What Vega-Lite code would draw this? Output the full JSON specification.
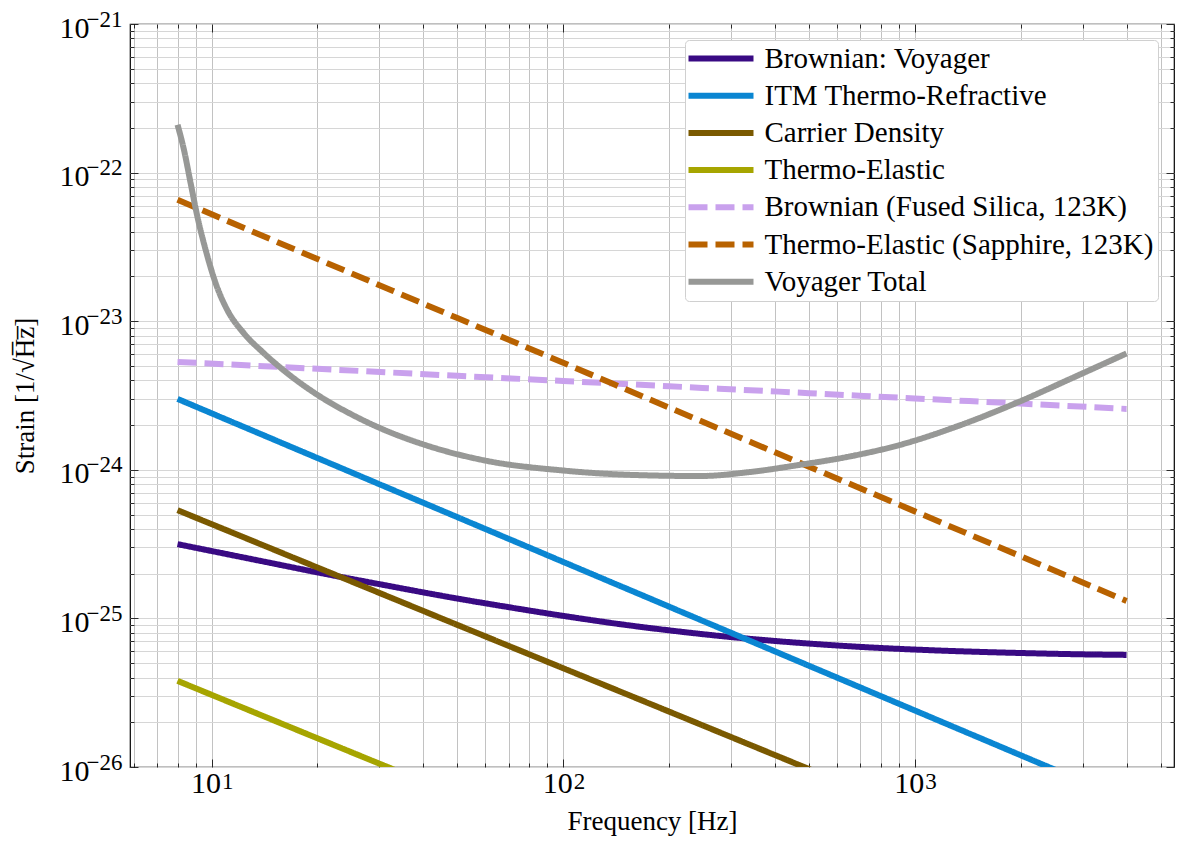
{
  "$schema": "https://vega.github.io/schema/vega-lite/v6.json",
  "width": 1044,
  "height": 743,
  "autosize": {"type": "none"},
  "padding": {"left": 130, "top": 24, "right": 3, "bottom": 76},
  "background": "white",
  "config": {
    "view": {"stroke": "black", "strokeWidth": 1.2},
    "font": "Liberation Serif"
  },
  "resolve": {"axis": {"x": "independent", "y": "independent"}},
  "data": {
    "values": [
      {"k": "Brownian: Voyager", "f": 8, "s": 3.16e-25},
      {"k": "Brownian: Voyager", "f": 10, "s": 2.84e-25},
      {"k": "Brownian: Voyager", "f": 15, "s": 2.34e-25},
      {"k": "Brownian: Voyager", "f": 20, "s": 2.04e-25},
      {"k": "Brownian: Voyager", "f": 30, "s": 1.70e-25},
      {"k": "Brownian: Voyager", "f": 50, "s": 1.36e-25},
      {"k": "Brownian: Voyager", "f": 70, "s": 1.19e-25},
      {"k": "Brownian: Voyager", "f": 100, "s": 1.04e-25},
      {"k": "Brownian: Voyager", "f": 150, "s": 9.05e-26},
      {"k": "Brownian: Voyager", "f": 200, "s": 8.31e-26},
      {"k": "Brownian: Voyager", "f": 300, "s": 7.49e-26},
      {"k": "Brownian: Voyager", "f": 500, "s": 6.77e-26},
      {"k": "Brownian: Voyager", "f": 700, "s": 6.43e-26},
      {"k": "Brownian: Voyager", "f": 1000, "s": 6.17e-26},
      {"k": "Brownian: Voyager", "f": 1500, "s": 5.96e-26},
      {"k": "Brownian: Voyager", "f": 2000, "s": 5.85e-26},
      {"k": "Brownian: Voyager", "f": 3000, "s": 5.73e-26},
      {"k": "Brownian: Voyager", "f": 4000, "s": 5.68e-26},

      {"k": "ITM Thermo-Refractive", "f": 8, "s": 3.0e-24},
      {"k": "ITM Thermo-Refractive", "f": 20, "s": 1.2e-24},
      {"k": "ITM Thermo-Refractive", "f": 50, "s": 4.8e-25},
      {"k": "ITM Thermo-Refractive", "f": 100, "s": 2.4e-25},
      {"k": "ITM Thermo-Refractive", "f": 200, "s": 1.2e-25},
      {"k": "ITM Thermo-Refractive", "f": 500, "s": 4.8e-26},
      {"k": "ITM Thermo-Refractive", "f": 1000, "s": 2.4e-26},
      {"k": "ITM Thermo-Refractive", "f": 2000, "s": 1.2e-26},
      {"k": "ITM Thermo-Refractive", "f": 4000, "s": 6.0e-27},

      {"k": "Carrier Density", "f": 8, "s": 5.35e-25},
      {"k": "Carrier Density", "f": 20, "s": 2.20e-25},
      {"k": "Carrier Density", "f": 50, "s": 9.04e-26},
      {"k": "Carrier Density", "f": 100, "s": 4.62e-26},
      {"k": "Carrier Density", "f": 200, "s": 2.36e-26},
      {"k": "Carrier Density", "f": 500, "s": 9.69e-27},
      {"k": "Carrier Density", "f": 1000, "s": 4.95e-27},
      {"k": "Carrier Density", "f": 4000, "s": 1.29e-27},

      {"k": "Thermo-Elastic", "f": 8, "s": 3.8e-26},
      {"k": "Thermo-Elastic", "f": 20, "s": 1.56e-26},
      {"k": "Thermo-Elastic", "f": 50, "s": 6.42e-27},
      {"k": "Thermo-Elastic", "f": 100, "s": 3.28e-27},
      {"k": "Thermo-Elastic", "f": 1000, "s": 3.5e-28},
      {"k": "Thermo-Elastic", "f": 4000, "s": 9.2e-29},

      {"k": "Brownian (Fused Silica, 123K)", "f": 8, "s": 5.32e-24},
      {"k": "Brownian (Fused Silica, 123K)", "f": 20, "s": 4.78e-24},
      {"k": "Brownian (Fused Silica, 123K)", "f": 50, "s": 4.29e-24},
      {"k": "Brownian (Fused Silica, 123K)", "f": 100, "s": 3.96e-24},
      {"k": "Brownian (Fused Silica, 123K)", "f": 200, "s": 3.65e-24},
      {"k": "Brownian (Fused Silica, 123K)", "f": 500, "s": 3.28e-24},
      {"k": "Brownian (Fused Silica, 123K)", "f": 1000, "s": 3.02e-24},
      {"k": "Brownian (Fused Silica, 123K)", "f": 2000, "s": 2.79e-24},
      {"k": "Brownian (Fused Silica, 123K)", "f": 4000, "s": 2.57e-24},

      {"k": "Thermo-Elastic (Sapphire, 123K)", "f": 8, "s": 6.56e-23},
      {"k": "Thermo-Elastic (Sapphire, 123K)", "f": 20, "s": 2.62e-23},
      {"k": "Thermo-Elastic (Sapphire, 123K)", "f": 50, "s": 1.05e-23},
      {"k": "Thermo-Elastic (Sapphire, 123K)", "f": 100, "s": 5.25e-24},
      {"k": "Thermo-Elastic (Sapphire, 123K)", "f": 200, "s": 2.62e-24},
      {"k": "Thermo-Elastic (Sapphire, 123K)", "f": 500, "s": 1.05e-24},
      {"k": "Thermo-Elastic (Sapphire, 123K)", "f": 1000, "s": 5.25e-25},
      {"k": "Thermo-Elastic (Sapphire, 123K)", "f": 2000, "s": 2.62e-25},
      {"k": "Thermo-Elastic (Sapphire, 123K)", "f": 4000, "s": 1.31e-25},

      {"k": "Voyager Total", "f": 8, "s": 2.1e-22},
      {"k": "Voyager Total", "f": 8.34, "s": 1.43e-22},
      {"k": "Voyager Total", "f": 8.72, "s": 8.45e-23},
      {"k": "Voyager Total", "f": 9.11, "s": 5.06e-23},
      {"k": "Voyager Total", "f": 9.62, "s": 3.01e-23},
      {"k": "Voyager Total", "f": 10.27, "s": 1.80e-23},
      {"k": "Voyager Total", "f": 11.08, "s": 1.19e-23},
      {"k": "Voyager Total", "f": 12.35, "s": 8.3e-24},
      {"k": "Voyager Total", "f": 14.08, "s": 6.09e-24},
      {"k": "Voyager Total", "f": 16.41, "s": 4.47e-24},
      {"k": "Voyager Total", "f": 20.4, "s": 3.10e-24},
      {"k": "Voyager Total", "f": 25, "s": 2.36e-24},
      {"k": "Voyager Total", "f": 30.2, "s": 1.905e-24},
      {"k": "Voyager Total", "f": 40.1, "s": 1.48e-24},
      {"k": "Voyager Total", "f": 60.7, "s": 1.148e-24},
      {"k": "Voyager Total", "f": 100, "s": 9.89e-25},
      {"k": "Voyager Total", "f": 158, "s": 9.23e-25},
      {"k": "Voyager Total", "f": 245, "s": 9.08e-25},
      {"k": "Voyager Total", "f": 339, "s": 9.66e-25},
      {"k": "Voyager Total", "f": 471, "s": 1.08e-24},
      {"k": "Voyager Total", "f": 653, "s": 1.23e-24},
      {"k": "Voyager Total", "f": 906, "s": 1.47e-24},
      {"k": "Voyager Total", "f": 1349, "s": 2.0e-24},
      {"k": "Voyager Total", "f": 1986, "s": 2.88e-24},
      {"k": "Voyager Total", "f": 2818, "s": 4.17e-24},
      {"k": "Voyager Total", "f": 4000, "s": 6.07e-24}
    ]
  },
  "layer": [
    {
      "mark": {"type": "line", "strokeWidth": 6, "clip": true, "strokeCap": "butt", "interpolate": "monotone"},
      "encoding": {
        "x": {
          "field": "f", "type": "quantitative",
          "scale": {"type": "log", "domain": [5.86, 5458], "nice": false},
          "axis": {
            "orient": "bottom",
            "title": "Frequency [Hz]",
            "titleFont": "Liberation Serif", "titleFontSize": 27, "titleFontWeight": "normal", "titleColor": "black",
            "titlePadding": 6,
            "values": [6,7,8,9,10,20,30,40,50,60,70,80,90,100,200,300,400,500,600,700,800,900,1000,2000,3000,4000,5000],
            "labelExpr": "abs(log(datum.value)/LN10 - round(log(datum.value)/LN10)) > 0.001 ? '' : '10'",
            "labelFont": "Liberation Serif", "labelFontSize": 30, "labelColor": "black",
            "labelAlign": "right", "labelBaseline": "alphabetic", "labelOffset": 9,
            "labelOverlap": false, "labelFlush": false, "labelPadding": 33,
            "domain": false,
            "grid": true, "gridColor": "#c2c2c2", "gridWidth": 1,
            "tickColor": "black", "tickWidth": 0.8,
            "tickSize": {"condition": {"test": "abs(log(datum.value)/LN10 - round(log(datum.value)/LN10)) < 0.001", "value": -8}, "value": -4}
          }
        },
        "y": {
          "field": "s", "type": "quantitative",
          "scale": {"type": "log", "domain": [1e-26, 1e-21], "nice": false},
          "axis": {
            "orient": "left",
            "title": "Strain [1/√H̅z̅]",
            "titleFont": "Liberation Serif", "titleFontSize": 27, "titleFontWeight": "normal", "titleColor": "black",
            "titlePadding": 20,
            "values": [1e-26,2e-26,3e-26,4e-26,5e-26,6e-26,7e-26,8e-26,9e-26,1e-25,2e-25,3e-25,4e-25,5e-25,6e-25,7e-25,8e-25,9e-25,1e-24,2e-24,3e-24,4e-24,5e-24,6e-24,7e-24,8e-24,9e-24,1e-23,2e-23,3e-23,4e-23,5e-23,6e-23,7e-23,8e-23,9e-23,1e-22,2e-22,3e-22,4e-22,5e-22,6e-22,7e-22,8e-22,9e-22,1e-21],
            "labelExpr": "abs(log(datum.value)/LN10 - round(log(datum.value)/LN10)) > 0.001 ? '' : '10'",
            "labelFont": "Liberation Serif", "labelFontSize": 30, "labelColor": "black",
            "labelAlign": "right", "labelBaseline": "alphabetic", "labelOffset": 13,
            "labelOverlap": false, "labelFlush": false, "labelPadding": 49,
            "domain": false,
            "grid": true, "gridColor": "#d6d6d6", "gridWidth": 1,
            "tickColor": "black", "tickWidth": 0.8,
            "tickSize": {"condition": {"test": "abs(log(datum.value)/LN10 - round(log(datum.value)/LN10)) < 0.001", "value": -8}, "value": -4}
          }
        },
        "color": {
          "field": "k", "type": "nominal",
          "scale": {
            "domain": ["Brownian: Voyager", "ITM Thermo-Refractive", "Carrier Density", "Thermo-Elastic", "Brownian (Fused Silica, 123K)", "Thermo-Elastic (Sapphire, 123K)", "Voyager Total"],
            "range": ["#390a83", "#0a86d2", "#7a5900", "#a6a500", "#c9a1ed", "#b86200", "#979896"]
          },
          "legend": {
            "title": null,
            "orient": "none", "legendX": 555, "legendY": 16,
            "symbolType": "M-3.25,0H3.25", "symbolSize": 400, "symbolStrokeWidth": 6, "symbolOffset": 17.5,
            "labelFont": "Liberation Serif", "labelFontSize": 29, "labelColor": "black", "labelLimit": 600,
            "labelOffset": 29, "rowPadding": 7.2, "padding": 4,
            "fillColor": "white", "strokeColor": "#d0d0d0", "cornerRadius": 4
          }
        },
        "strokeDash": {
          "field": "k", "type": "nominal",
          "scale": {
            "domain": ["Brownian: Voyager", "ITM Thermo-Refractive", "Carrier Density", "Thermo-Elastic", "Brownian (Fused Silica, 123K)", "Thermo-Elastic (Sapphire, 123K)", "Voyager Total"],
            "range": [[1, 0], [1, 0], [1, 0], [1, 0], [19, 8], [19, 8], [1, 0]]
          },
          "legend": {
            "title": null,
            "orient": "none", "legendX": 555, "legendY": 16,
            "symbolType": "M-3.25,0H3.25", "symbolSize": 400, "symbolStrokeWidth": 6, "symbolOffset": 17.5,
            "labelFont": "Liberation Serif", "labelFontSize": 29, "labelColor": "black", "labelLimit": 600,
            "labelOffset": 29, "rowPadding": 7.2, "padding": 4,
            "fillColor": "white", "strokeColor": "#d0d0d0", "cornerRadius": 4
          }
        }
      }
    },
    {
      "mark": {"type": "line", "opacity": 0},
      "encoding": {
        "x": {
          "field": "f", "type": "quantitative",
          "axis": {
            "orient": "top", "title": null, "labels": false, "grid": false, "domain": false,
            "values": [6,7,8,9,10,20,30,40,50,60,70,80,90,100,200,300,400,500,600,700,800,900,1000,2000,3000,4000,5000],
            "tickColor": "black", "tickWidth": 0.8,
            "tickSize": {"condition": {"test": "abs(log(datum.value)/LN10 - round(log(datum.value)/LN10)) < 0.001", "value": -8}, "value": -4}
          }
        },
        "y": {
          "field": "s", "type": "quantitative",
          "axis": {
            "orient": "right", "title": null, "labels": false, "grid": false, "domain": false,
            "values": [1e-26,2e-26,3e-26,4e-26,5e-26,6e-26,7e-26,8e-26,9e-26,1e-25,2e-25,3e-25,4e-25,5e-25,6e-25,7e-25,8e-25,9e-25,1e-24,2e-24,3e-24,4e-24,5e-24,6e-24,7e-24,8e-24,9e-24,1e-23,2e-23,3e-23,4e-23,5e-23,6e-23,7e-23,8e-23,9e-23,1e-22,2e-22,3e-22,4e-22,5e-22,6e-22,7e-22,8e-22,9e-22,1e-21],
            "tickColor": "black", "tickWidth": 0.8,
            "tickSize": {"condition": {"test": "abs(log(datum.value)/LN10 - round(log(datum.value)/LN10)) < 0.001", "value": -8}, "value": -4}
          }
        },
        "detail": {"field": "k", "type": "nominal"}
      }
    },
    {
      "mark": {"type": "line", "opacity": 0},
      "encoding": {
        "x": {
          "field": "f", "type": "quantitative",
          "axis": {
            "orient": "bottom", "title": null, "grid": false, "domain": false, "ticks": false,
            "values": [10, 100, 1000],
            "labelExpr": "round(log(datum.value)/LN10) == 1 ? '1' : (round(log(datum.value)/LN10) == 2 ? '2' : '3')",
            "labelFont": "Liberation Serif", "labelFontSize": 23, "labelColor": "black",
            "labelAlign": "left", "labelBaseline": "alphabetic", "labelOffset": 10,
            "labelOverlap": false, "labelFlush": false, "labelPadding": 21
          }
        },
        "y": {
          "field": "s", "type": "quantitative",
          "axis": {
            "orient": "left", "title": null, "grid": false, "domain": false, "ticks": false,
            "values": [1e-26, 1e-25, 1e-24, 1e-23, 1e-22, 1e-21],
            "labelExpr": "'−' + format(-round(log(datum.value)/LN10), 'd')",
            "labelFont": "Liberation Serif", "labelFontSize": 23, "labelColor": "black",
            "labelAlign": "right", "labelBaseline": "alphabetic", "labelOffset": 2,
            "labelOverlap": false, "labelFlush": false, "labelPadding": 8
          }
        },
        "detail": {"field": "k", "type": "nominal"}
      }
    }
  ]
}
